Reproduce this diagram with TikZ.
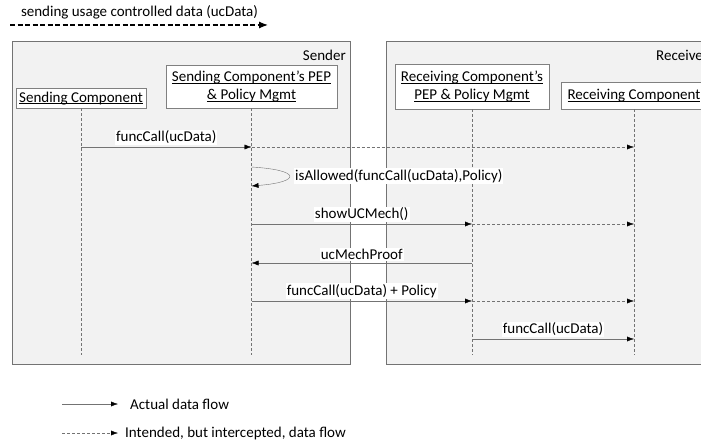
\documentclass[tikz,border=0pt]{standalone}
\usepackage{fontspec}
\setmainfont{Carlito}
\usetikzlibrary{positioning,calc,arrows.meta}
\tikzset{
  >={Latex[length=7pt,width=5pt,color=black]},
  zone/.style={draw=black!55, fill=black!5, semithick},
  party/.style={draw=black!50, fill=white, text centered, align=center, inner sep=1pt},
  lifeline/.style={draw=black!55, thin, dash pattern=on 3pt off 2pt},
  actual/.style={draw=black!55, thin, ->},
  intended/.style={draw=black!55, thin, dash pattern=on 3pt off 2pt, ->},
  msglabel/.style={above=2pt, fill=white, inner sep=1pt}
}
\newcommand{\party}[3]{node (c#1) [party,#2] {#3}}
\newcommand{\ulname}[1]{\underline{\raisebox{0pt}[\height][0pt]{#1}}}

\begin{document}
\begin{tikzpicture}[x=1pt,y=1pt,font=\fontsize{15}{17}\selectfont]
  \useasboundingbox (0,0) rectangle (701,445);
  \clip (0,0) rectangle (701,445);

  % Draw heading arrow
  \node (title) at (139.5,433) {sending usage controlled data (ucData)};
  \coordinate (t1) at (10,420);
  \coordinate (t2) at (268,420);
  \path [draw, very thick, dash pattern=on 5pt off 2.5pt, -{Latex[length=9pt,width=7pt]}] (t1) -- (t2);

  % Draw zones
  \path [zone] (12,81) rectangle (350,404);
  \path [zone] (386,81) rectangle (715,404);
  \node [anchor=east, inner sep=0pt] (sender) at (346,390) {Sender};
  \node [anchor=west, inner sep=0pt] (receiver) at (656,390) {Receiver};

  % Draw components
  \path (81,347) \party{1}{minimum width=130pt, minimum height=20pt}{\ulname{Sending Component}};
  \path (251.5,358.5) \party{2}{minimum width=171pt, minimum height=43pt}{\ulname{Sending Component's PEP}\\[1pt]\ulname{\& Policy Mgmt}};
  \path (472,358.5) \party{3}{minimum width=154pt, minimum height=45pt}{\ulname{Receiving Component's}\\[1pt]\ulname{PEP \& Policy Mgmt}};
  \path (634,349.5) \party{4}{minimum width=146pt, minimum height=27pt}{\ulname{Receiving Component}};

  % Draw lifelines
  \foreach \c in {1,...,4} {
    \coordinate (e\c) at (c\c |- 0,90);
    \path [lifeline] (c\c.south) -- (e\c);
  }

  % Message rows
  \foreach \n/\y in {1/298,2/278,3/259,4/221,5/182,6/144,7/106}
    \foreach \c in {1,...,4}
      \coordinate (m\n\c) at (c\c |- 0,\y);

  % Draw messages
  \path [actual] (m11) -- node [msglabel] {funcCall(ucData)} (m12);
  \path [intended] (m12) -- (m14);
  \path [actual] (m22) .. controls ($(m22)+(50,-3)$) and ($(m32)+(50,4)$) .. (m32);
  \node [anchor=west, fill=white, inner sep=1pt] (allowed) at (294,269) {isAllowed(funcCall(ucData),Policy)};
  \path [actual] (m42) -- node [msglabel] {showUCMech()} (m43);
  \path [intended] (m43) -- (m44);
  \path [actual] (m53) -- node [msglabel] {ucMechProof} (m52);
  \path [actual] (m62) -- node [msglabel] {funcCall(ucData) + Policy} (m63);
  \path [intended] (m63) -- (m64);
  \path [actual] (m73) -- node [msglabel] {funcCall(ucData)} (m74);

  % Draw legend
  \coordinate (la) at (62,41);
  \coordinate (lb) at (118,41);
  \coordinate (lc) at (62,12);
  \coordinate (ld) at (118,12);
  \path [actual] (la) -- (lb);
  \path [intended] (lc) -- (ld);
  \node [right=12pt of lb, inner sep=0pt] (legA) {Actual data flow};
  \node [right=7pt of ld, inner sep=0pt] (legB) {Intended, but intercepted, data flow};
\end{tikzpicture}
\end{document}
